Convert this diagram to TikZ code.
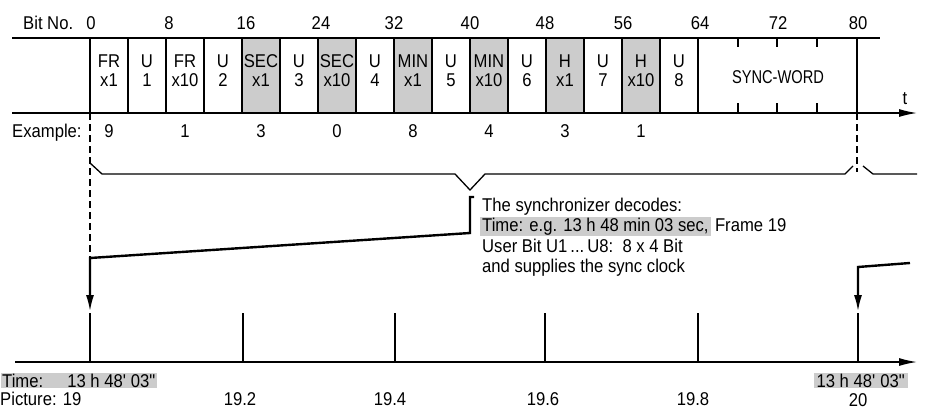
\documentclass[tikz,border=0pt]{standalone}
\usepackage{fontspec}
\setmainfont{Liberation Sans}[FakeStretch=0.9]
\usetikzlibrary{arrows.meta,calc}
\begin{document}
\begin{tikzpicture}[x=1pt,y=-1pt,
  every node/.style={inner sep=0pt, font=\fontsize{18.5}{21}\selectfont},
  cellbox/.style={draw, line width=1.3pt, minimum width=38pt, minimum height=75pt},
  shadedbox/.style={cellbox, fill=gray!40},
  celltext/.style={align=center, font=\fontsize{18.5}{19}\selectfont},
  thinline/.style={line width=1.3pt},
  thickconn/.style={line width=2.4pt, -{Latex[length=17pt,width=8pt]}},
  axisline/.style={line width=1.4pt, -{Latex[length=18pt,width=8pt]}},
  shadelabel/.style={fill=gray!40, inner xsep=2pt, inner ysep=1pt},
  dashline/.style={line width=1.2pt, dash pattern=on 7pt off 4pt},
  lbl/.style={anchor=base},
]
\useasboundingbox (0,0) rectangle (925,410);

% ---------- bit cells ----------
\foreach \i/\a/\b/\s in {0/FR/x1/cellbox, 1/U/1/cellbox, 2/FR/x10/cellbox, 3/U/2/cellbox,
  4/SEC/x1/shadedbox, 5/U/3/cellbox, 6/SEC/x10/shadedbox, 7/U/4/cellbox,
  8/MIN/x1/shadedbox, 9/U/5/cellbox, 10/MIN/x10/shadedbox, 11/U/6/cellbox,
  12/H/x1/shadedbox, 13/U/7/cellbox, 14/H/x10/shadedbox, 15/U/8/cellbox}
{
  \node[\s] (c\i) at (109+38*\i,75.5) {};
  \node[celltext, yshift=4.5pt] (ct\i) at (c\i.center) {\a\\\b};
}
\node[cellbox, minimum width=159pt] (sync) at (777.5,75.5) {};
\node (synct) at (778,77) {\scalebox{0.88}[1]{SYNC-WORD}};
\foreach \x in {738,777,817}{
  \draw[thinline] (\x,38) -- (\x,47);
  \draw[thinline] (\x,103) -- (\x,113);
}

% ---------- frame lines ----------
\coordinate (tl) at (12,38);
\coordinate (tr) at (880,38);
\draw[thinline] (tl) -- (tr);
\coordinate (al) at (12,113);
\coordinate (ar) at (917,113);
\draw[axisline] (al) -- (ar);
\node (tlab) at (905,98.5) {t};

% ---------- bit numbers ----------
\node[anchor=base west] (bitno) at (23,29) {Bit No.};
\foreach \x/\n in {91/0,169/8,246/16,321/24,394/32,470/40,545/48,623/56,700/64,778/72,858/80}
  \node[lbl] (b\n) at (\x,29) {\n};

% ---------- example ----------
\node[anchor=base west] (ex) at (12,137) {Example:};
\foreach \k/\d in {0/9,2/1,4/3,6/0,8/8,10/4,12/3,14/1}
  \node[lbl] (e\k) at ($(c\k.center)+(0,61.5)$) {\d};

% ---------- dashed markers ----------
\coordinate (d0a) at (90,113);
\coordinate (d0b) at (90,258);
\draw[dashline] (d0a) -- (d0b);
\coordinate (d1a) at (857,113);
\coordinate (d1b) at (857,172);
\draw[dashline] (d1a) -- (d1b);

% ---------- bracket ----------
\coordinate (vtip) at (470,190);
\draw[thinline] (90,163) -- (102,174) -- (455,174) -- (vtip) -- (485,174) -- (845,174) -- (853,166);
\draw[thinline] (863,166) -- (873,174) -- (917,174);

% ---------- text block ----------
\node[anchor=base west] (tx1) at (482,211) {The synchronizer decodes:};
\node[anchor=base west, shadelabel] (tx2) at (480,231) {Time: e.g. 13 h 48 min 03 sec,};
\node[anchor=base west] (tx2b) at ($(tx2.base east)+(4,0)$) {Frame 19};
\node[anchor=base west] (tx3) at (482,252) {User Bit U1\,...\,U8:\enspace 8 x 4 Bit};
\node[anchor=base west] (tx4) at (482,272) {and supplies the sync clock};

% ---------- bottom time axis ----------
\coordinate (bl) at (15,362);
\coordinate (br) at (917,362);
\draw[axisline] (bl) -- (br);
\foreach \j/\x in {0/90,1/243,2/395,3/545,4/698,5/858}{
  \coordinate (tk\j) at (\x,312);
  \draw[thinline] (\x,313) -- (\x,362);
}

% ---------- sync clock connectors ----------
\coordinate (k1) at (474,197);
\coordinate (k2) at (470,197);
\coordinate (k3) at (470,233);
\coordinate (k4) at (90,258);
\draw[thickconn] (k1) -- (k2) -- (k3) -- (k4) -- (tk0);
\coordinate (m1) at (910,263);
\coordinate (m2) at (858,267);
\draw[thickconn] (m1) -- (m2) -- (tk5);

% ---------- bottom labels ----------
\node[anchor=base west, shadelabel, inner xsep=1pt] (tm0) at (1,387) {Time:\hspace{1.3em}13 h 48\textquotesingle\ 03\textquotedbl};
\node[anchor=base west] (pic) at (0,405) {Picture: 19};
\node[lbl] (p2) at (240,405) {19.2};
\node[lbl] (p4) at (390,405) {19.4};
\node[lbl] (p6) at (543,405) {19.6};
\node[lbl] (p8) at (693,405) {19.8};
\node[lbl] (p10) at (858,406) {20};
\node[lbl, shadelabel, inner xsep=3pt] (tm1) at (861,387) {13 h 48\textquotesingle\ 03\textquotedbl};
\end{tikzpicture}
\end{document}
